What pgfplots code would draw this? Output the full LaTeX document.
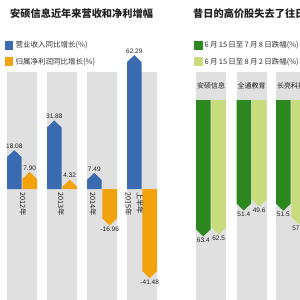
\documentclass[border=0pt]{standalone}
\usepackage{pgfplots}
\pgfplotsset{compat=1.18}
\usepackage{fontspec}
\setmainfont{Liberation Sans}
\newfontfamily\cjk{Noto Sans CJK SC}
\definecolor{blueC}{HTML}{3A6BB0}
\definecolor{orangeC}{HTML}{F2A20C}
\definecolor{dgreen}{HTML}{2C871E}
\definecolor{lgreen}{HTML}{C8DC7D}
\definecolor{grayC}{HTML}{E0E0E0}
\definecolor{txt}{HTML}{222222}
\definecolor{legtxt}{HTML}{333333}
\newcommand{\lab}{\fontsize{6.5}{7}\selectfont}
\newcommand{\legf}{\cjk\fontsize{7.5}{8}\selectfont}
\pgfplotsset{
  panel/.style={
    at={(0pt,0pt)}, anchor=south west, scale only axis,
    width=300pt, height=300pt, xmin=0, xmax=300,
    hide axis, clip=false,
    legend cell align=left,
    legend image code/.code={\fill[##1] (0pt,-4.5pt) rectangle (8.5pt,4.5pt);},
    legend style={draw=none, fill=none, inner sep=0pt, outer sep=0pt,
      font=\legf, text=legtxt, row sep=7.5pt,
      nodes={inner ysep=0pt, inner xsep=2.2pt}},
  },
  lbl/.style={only marks, mark=none, forget plot, nodes near coords,
    point meta=explicit symbolic,
    every node near coord/.append style={font=\lab, text=txt, inner sep=1.5pt}},
}
\begin{document}
\begin{tikzpicture}
\useasboundingbox (0,0) rectangle (300pt,300pt);
\fill[white] (0,0) rectangle (300pt,300pt);
\clip (0,0) rectangle (300pt,300pt);

% ---------------- left panel ----------------
\begin{axis}[panel, ymin=-51.628, ymax=87.907,
  legend style={at={(axis cs:5,69.0)}, anchor=north west}]
\addplot[fill=grayC, draw=none, forget plot] coordinates {(7,-52) (7,54.42) (37,54.42) (37,-52)};
\addplot[fill=grayC, draw=none, forget plot] coordinates {(47,-52) (47,54.42) (77,54.42) (77,-52)};
\addplot[fill=grayC, draw=none, forget plot] coordinates {(87,-52) (87,54.42) (117,54.42) (117,-52)};
\addplot[fill=grayC, draw=none, forget plot] coordinates {(127,-52) (127,54.42) (157,54.42) (157,-52)};
% revenue growth (blue)
\addplot[fill=blueC, draw=none, forget plot] coordinates {(7,0) (7,14.82) (14.3,18.08) (21.6,14.82) (21.6,0)};
\addplot[fill=blueC, draw=none, forget plot] coordinates {(47,0) (47,28.62) (54.3,31.88) (61.6,28.62) (61.6,0)};
\addplot[fill=blueC, draw=none, forget plot] coordinates {(87,0) (87,4.23) (94.3,7.49) (101.6,4.23) (101.6,0)};
\addplot[fill=blueC, draw=none, forget plot] coordinates {(127,0) (127,59.03) (134.3,62.29) (141.6,59.03) (141.6,0)};
% net profit growth (orange)
\addplot[fill=orangeC, draw=none, forget plot] coordinates {(22.4,0) (22.4,4.64) (29.7,7.90) (37,4.64) (37,0)};
\addplot[fill=orangeC, draw=none, forget plot] coordinates {(62.4,0) (62.4,1.06) (69.7,4.32) (77,1.06) (77,0)};
\addplot[fill=orangeC, draw=none, forget plot] coordinates {(102.4,0) (102.4,-13.70) (109.7,-16.96) (117,-13.70) (117,0)};
\addplot[fill=orangeC, draw=none, forget plot] coordinates {(142.4,0) (142.4,-38.22) (149.7,-41.48) (157,-38.22) (157,0)};
% value labels
\addplot[lbl, nodes near coords align={above}] coordinates {(14.3,18.08)[18.08] (54.3,31.88)[31.88] (94.3,7.49)[7.49] (134.3,62.29)[62.29] (29.7,7.90)[7.90] (69.7,4.32)[4.32]};
\addplot[lbl, nodes near coords align={below}] coordinates {(109.7,-16.96)[-16.96] (149.7,-41.48)[-41.48]};
\addlegendimage{fill=blueC, draw=none}
\addlegendentry{营业收入同比增长(\%)}
\addlegendimage{fill=orangeC, draw=none}
\addlegendentry{归属净利润同比增长(\%)}
\end{axis}

% ---------------- right panel ----------------
\begin{axis}[panel, y dir=reverse, ymin=-46.512, ymax=93.023,
  legend style={at={(axis cs:194,-27.6)}, anchor=north west}]
\addplot[fill=grayC, draw=none, forget plot] coordinates {(196,-13.02) (196,94) (226,94) (226,-13.02)};
\addplot[fill=grayC, draw=none, forget plot] coordinates {(236.5,-13.02) (236.5,94) (266.5,94) (266.5,-13.02)};
\addplot[fill=grayC, draw=none, forget plot] coordinates {(276,-13.02) (276,94) (306,94) (306,-13.02)};
% 6/15 - 7/8 decline (dark green)
\addplot[fill=dgreen, draw=none, forget plot] coordinates {(196,0) (196,60.14) (203.3,63.4) (210.6,60.14) (210.6,0)};
\addplot[fill=dgreen, draw=none, forget plot] coordinates {(236.5,0) (236.5,48.14) (243.8,51.4) (251.1,48.14) (251.1,0)};
\addplot[fill=dgreen, draw=none, forget plot] coordinates {(276,0) (276,48.24) (283.3,51.5) (290.6,48.24) (290.6,0)};
% 6/15 - 8/2 decline (light green)
\addplot[fill=lgreen, draw=none, forget plot] coordinates {(211.4,0) (211.4,59.24) (218.7,62.5) (226,59.24) (226,0)};
\addplot[fill=lgreen, draw=none, forget plot] coordinates {(251.9,0) (251.9,46.34) (259.2,49.6) (266.5,46.34) (266.5,0)};
\addplot[fill=lgreen, draw=none, forget plot] coordinates {(291.4,0) (291.4,54.44) (298.7,57.7) (306,54.44) (306,0)};
\addplot[lbl, nodes near coords align={below}] coordinates {(203.3,63.4)[63.4] (243.8,51.4)[51.4] (283.3,51.5)[51.5] (218.7,62.5)[62.5] (259.2,49.6)[49.6] (298.7,57.7)[57.7]};
\addlegendimage{fill=dgreen, draw=none}
\addlegendentry{6\,月\,15\,日至\,7\,月\,8\,日跌幅(\%)}
\addlegendimage{fill=lgreen, draw=none}
\addlegendentry{6\,月\,15\,日至\,8\,月\,2\,日跌幅(\%)}
\end{axis}

% ---------------- titles and category names ----------------
\node[anchor=west, inner sep=0pt, text=txt, font=\cjk\bfseries\fontsize{10.2}{11}\selectfont] at (10pt,286pt) {安硕信息近年来营收和净利增幅};
\node[anchor=west, inner sep=0pt, text=txt, font=\cjk\bfseries\fontsize{10.2}{11}\selectfont] at (193pt,286pt) {昔日的高价股失去了往日光环};

\begin{scope}[every node/.style={rotate=-90, anchor=west, inner sep=0pt, text=txt, font=\cjk\fontsize{7.3}{8}\selectfont}]
\node at (23pt,108pt) {2012年};
\node at (61pt,108pt) {2013年};
\node at (93pt,108pt) {2014年};
\node at (140pt,108pt) {上半年};
\node at (128.5pt,108pt) {2015年};
\end{scope}

\begin{scope}[every node/.style={inner sep=0pt, text=txt, font=\cjk\fontsize{7}{8}\selectfont}]
\node at (211pt,214pt) {安硕信息};
\node at (251.5pt,214pt) {全通教育};
\node at (291pt,214pt) {长亮科技};
\end{scope}
\end{tikzpicture}
\end{document}
